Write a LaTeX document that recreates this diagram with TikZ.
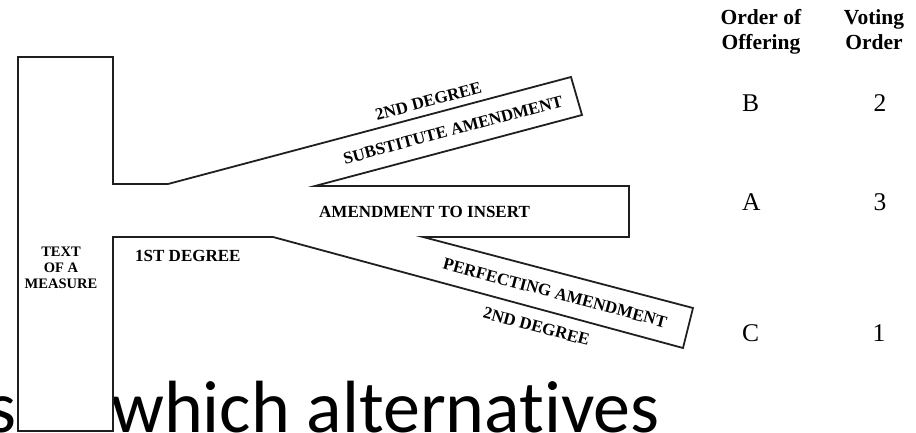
\documentclass[tikz,border=0pt]{standalone}
\usepackage{fontspec}
\setmainfont{Liberation Serif}
\newfontfamily\slidefont[Ligatures=NoCommon]{Carlito}
\begin{document}
\begin{tikzpicture}[x=1pt,y=-1pt,
  outline/.style={draw=black!88,line width=1.8pt,line join=miter,fill=white},
  lbl/.style={inner sep=0pt,font=\fontsize{17}{20}\selectfont\bfseries},
  hdr/.style={inner sep=0pt,font=\fontsize{21.5}{25}\selectfont\bfseries},
  cell/.style={inner sep=0pt,font=\fontsize{25.5}{28}\selectfont},
  slide/.style={inner sep=0pt,font=\fontsize{74}{80}\slidefont}]
\useasboundingbox (0,0) rectangle (916,433);
% slide text behind the figure
\node[slide,anchor=base east] (s) at (17,432) {s};
\node[slide,anchor=base west] (which) at (111,432) {which alternatives};
% outline of measure and amendments
\draw[outline] (18,57) -- (113,57) -- (113,184) -- (168,184) -- (571,77)
  -- (582,115) -- (315,186) -- (629,186) -- (629,237) -- (423,237)
  -- (693,308) -- (683,348) -- (273,237) -- (113,237) -- (113,431)
  -- (18,431) -- cycle;
% labels
\node[inner sep=0pt,align=center,font=\fontsize{14.5}{16}\selectfont\bfseries] (measure) at (61,268) {TEXT\\OF A\\MEASURE};
\node[lbl,anchor=base west] (first) at (135,261) {1ST DEGREE};
\node[lbl,anchor=base west] (insert) at (319,217) {AMENDMENT TO INSERT};
\node[lbl,rotate=14.9] (deg2a) at (428.5,101) {2ND DEGREE};
\node[lbl,rotate=14.9] (subst) at (453,130) {SUBSTITUTE AMENDMENT};
\node[lbl,rotate=-14.9] (perf) at (555,293) {PERFECTING AMENDMENT};
\node[lbl,rotate=-14.9] (deg2b) at (536.5,326.5) {2ND DEGREE};
% table
\node[hdr,anchor=base] (h1a) at (761,25) {Order of};
\node[hdr,anchor=base] (h1b) at (761,50) {Offering};
\node[hdr,anchor=base] (h2a) at (874,25) {Voting};
\node[hdr,anchor=base] (h2b) at (874,50) {Order};
\node[cell,anchor=base west] (B) at (742,112) {B};
\node[cell,anchor=base west] (A) at (742,210) {A};
\node[cell,anchor=base west] (C) at (742,341) {C};
\node[cell,anchor=base] (n2) at (880,112) {2};
\node[cell,anchor=base] (n3) at (880,210) {3};
\node[cell,anchor=base] (n1) at (879,341) {1};
\end{tikzpicture}
\end{document}
